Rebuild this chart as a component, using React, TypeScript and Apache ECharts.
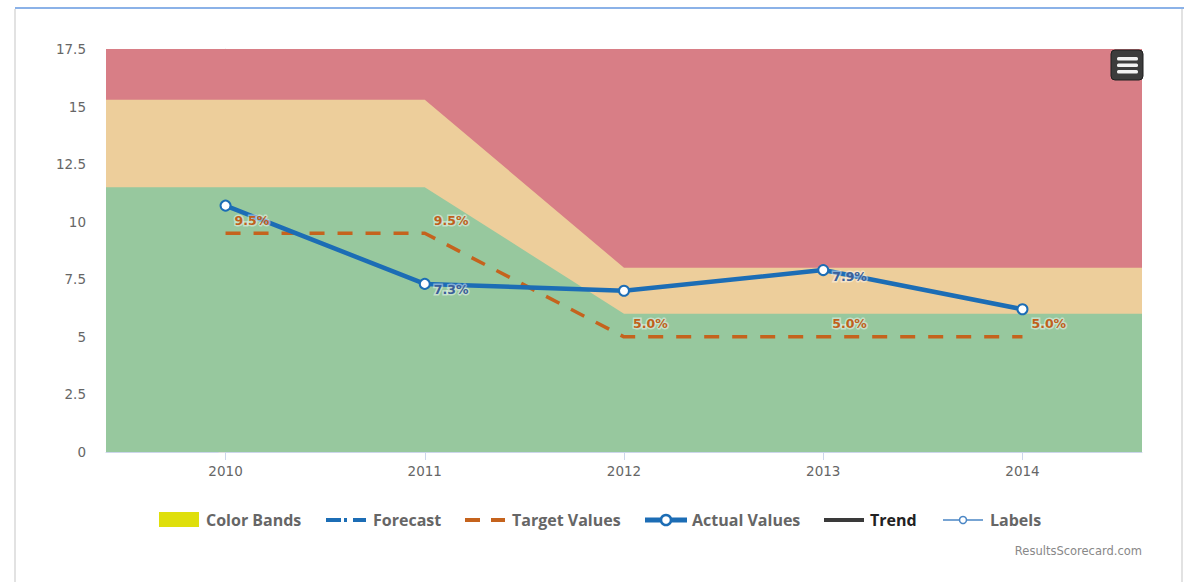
import React, { useEffect, useRef } from "react";
import * as echarts from "echarts";

const years = ["2010", "2011", "2012", "2013", "2014"];
const actualValues = [10.7, 7.3, 7.0, 7.9, 6.2];
const targetValues = [9.5, 9.5, 5.0, 5.0, 5.0];
const greenBandTop = [11.5, 11.5, 6, 6, 6];
const yellowBandTop = [15.3, 15.3, 8, 8, 8];
const redBandTop = [17.5, 17.5, 17.5, 17.5, 17.5];
const actualLabelShown = [false, true, false, true, false];
const targetLabelShown = [true, true, true, true, true];
const legendNames = ["Color Bands", "Forecast", "Target Values", "Actual Values", "Trend", "Labels"];

const X_PAD = 0.6;

function bandData(top: number[]) {
  const n = top.length;
  return [[-X_PAD, top[0]], ...top.map((v, i) => [i, v]), [n - 1 + X_PAD, top[n - 1]]];
}

const AXIS_FONT = "'DejaVu Sans', Verdana, sans-serif";
const LEGEND_FONT = "'Liberation Sans Narrow', 'Open Sans', sans-serif";

const C_ACTUAL = "#1c6db5";
const C_TARGET = "#c5631d";
const C_LABELS = "#4a86c5";
const C_TREND = "#3a3a3a";
const C_BANDS = "#dfdf0b";

// legend layout (icon left x, text x)
const LEGEND_Y = 520;
const legendIconX = [159, 326, 465, 645, 824, 943];
const legendTextX = [206, 373, 512, 692, 870, 990];

function legendIcon(i: number): any[] {
  const x = legendIconX[i];
  const y = LEGEND_Y;
  const ln = (x1: number, x2: number, stroke: string, lw: number) => ({
    type: "line",
    z: 100,
    shape: { x1, y1: y, x2, y2: y },
    style: { stroke, lineWidth: lw },
  });
  switch (i) {
    case 0:
      return [{ type: "rect", z: 100, shape: { x, y: y - 8, width: 40, height: 15 }, style: { fill: C_BANDS } }];
    case 1:
      return [ln(x, x + 15, C_ACTUAL, 4), ln(x + 18, x + 21, C_ACTUAL, 4), ln(x + 27, x + 40, C_ACTUAL, 4)];
    case 2:
      return [ln(x, x + 15, C_TARGET, 4), ln(x + 26, x + 40, C_TARGET, 4)];
    case 3:
      return [
        ln(x, x + 42, C_ACTUAL, 5),
        { type: "circle", z: 101, shape: { cx: x + 21, cy: y, r: 5 }, style: { fill: "#fff", stroke: C_ACTUAL, lineWidth: 2.5 } },
      ];
    case 4:
      return [ln(x, x + 40, C_TREND, 4)];
    default:
      return [
        ln(x, x + 40, C_LABELS, 1.5),
        { type: "circle", z: 101, shape: { cx: x + 20, cy: y, r: 3.5 }, style: { fill: "#fff", stroke: C_LABELS, lineWidth: 1.5 } },
      ];
  }
}

export default function App() {
  const ref = useRef<HTMLDivElement>(null);
  useEffect(() => {
    if (!ref.current) return;
    const chart = echarts.init(ref.current, undefined, { renderer: "svg" });
    const bandSeries = (name: string, top: number[], color: string, z: number) => ({
      name,
      type: "line",
      data: bandData(top),
      symbol: "none",
      silent: true,
      z,
      lineStyle: { width: 0 },
      areaStyle: { color, opacity: 1 },
    });
    const labelSeries = (name: string, values: number[], shown: boolean[], color: string, offset: number[]) => ({
      name,
      type: "scatter",
      z: 10,
      silent: true,
      symbolSize: 0,
      itemStyle: { color: "transparent", opacity: 1 },
      data: values.map((v, i) => ({ value: [i, v], label: { show: shown[i] } })),
      label: {
        position: "right",
        distance: 5,
        offset,
        formatter: (p: any) => p.value[1].toFixed(1) + "%",
        color,
        fontFamily: AXIS_FONT,
        fontWeight: "bold",
        fontSize: 12.5,
        textBorderColor: "rgba(255,255,255,0.45)",
        textBorderWidth: 3,
      },
    });
    const legendGraphics: any[] = [];
    legendNames.forEach((name, i) => {
      legendGraphics.push(...legendIcon(i));
      legendGraphics.push({
        type: "text",
        z: 100,
        x: legendTextX[i],
        y: LEGEND_Y,
        style: {
          text: name,
          fill: name === "Trend" ? "#222" : "#666",
          fontSize: 16,
          fontWeight: "bold",
          fontFamily: LEGEND_FONT,
          verticalAlign: "middle",
          align: "left",
        },
      });
    });
    chart.setOption({
      animation: false,
      grid: { left: 106, right: 42, top: 49, bottom: 130 },
      xAxis: {
        type: "value",
        min: -X_PAD,
        max: years.length - 1 + X_PAD,
        splitLine: { show: false },
        axisLine: { show: true, lineStyle: { color: "#ccd6eb" } },
        axisTick: {
          show: true,
          customValues: years.map((_, i) => i),
          length: 8,
          lineStyle: { color: "#ccd6eb" },
        },
        axisLabel: {
          customValues: years.map((_, i) => i),
          formatter: (v: number) => years[Math.round(v)] ?? "",
          color: "#666",
          fontSize: 13.5,
          fontFamily: AXIS_FONT,
          margin: 12,
        },
      },
      yAxis: {
        type: "value",
        min: 0,
        max: 17.5,
        interval: 2.5,
        splitLine: { show: false },
        axisLine: { show: true, lineStyle: { color: "#e6e6e6" } },
        axisTick: { show: true, length: 7, lineStyle: { color: "#ddd" } },
        axisLabel: {
          color: "#666",
          fontSize: 13.5,
          fontFamily: AXIS_FONT,
          margin: 20,
          formatter: (v: number) => String(v),
        },
      },
      series: [
        bandSeries("band-red", redBandTop, "#d87e86", 1),
        bandSeries("band-yellow", yellowBandTop, "#edce9b", 2),
        bandSeries("band-green", greenBandTop, "#97c89e", 3),
        {
          name: "Target Values",
          type: "line",
          z: 5,
          data: targetValues.map((v, i) => [i, v]),
          symbol: "none",
          lineStyle: { color: C_TARGET, width: 3.5, type: [15, 13] },
        },
        {
          name: "Actual Values",
          type: "line",
          z: 6,
          data: actualValues.map((v, i) => [i, v]),
          symbol: "circle",
          symbolSize: 10,
          itemStyle: { color: "#ffffff", borderColor: C_ACTUAL, borderWidth: 2 },
          lineStyle: { color: C_ACTUAL, width: 4.5 },
        },
        labelSeries("Target Labels", targetValues, targetLabelShown, "#c0601c", [4, -13]),
        labelSeries("Actual Labels", actualValues, actualLabelShown, "#3b5f99", [4, 6]),
      ],
      graphic: [
        { type: "line", z: 100, shape: { x1: 15, y1: 8, x2: 1184, y2: 8 }, style: { stroke: "#8bb2e8", lineWidth: 2 } },
        { type: "line", z: 100, shape: { x1: 15, y1: 9, x2: 15, y2: 582 }, style: { stroke: "#e2e2e2", lineWidth: 2 } },
        { type: "line", z: 100, shape: { x1: 1182, y1: 9, x2: 1182, y2: 582 }, style: { stroke: "#e2e2e2", lineWidth: 2 } },
        { type: "rect", z: 100, shape: { x: 1111, y: 50, width: 32, height: 30, r: 4 }, style: { fill: "#3c3c3c", stroke: "#1e1e1e", lineWidth: 1 } },
        { type: "rect", z: 101, shape: { x: 1117, y: 57, width: 21, height: 3.5, r: 1.5 }, style: { fill: "#f2f2f2" } },
        { type: "rect", z: 101, shape: { x: 1117, y: 63.5, width: 21, height: 3.5, r: 1.5 }, style: { fill: "#f2f2f2" } },
        { type: "rect", z: 101, shape: { x: 1117, y: 70, width: 21, height: 3.5, r: 1.5 }, style: { fill: "#f2f2f2" } },
        ...legendGraphics,
        {
          type: "text",
          z: 100,
          right: 42,
          top: 545,
          style: { text: "ResultsScorecard.com", fill: "#888", fontSize: 11.5, fontFamily: AXIS_FONT },
        },
      ],
    });
    return () => chart.dispose();
  }, []);
  return (
    <div
      ref={ref}
      style={{ position: "fixed", left: 0, top: 0, width: 1184, height: 582, background: "#fff" }}
    />
  );
}
